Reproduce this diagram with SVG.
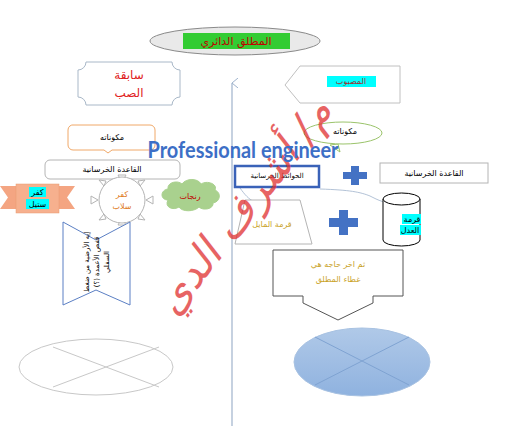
<svg xmlns="http://www.w3.org/2000/svg" width="508" height="429" viewBox="0 0 508 429">
<style>
.ar{font-family:"DejaVu Sans","Noto Sans",sans-serif;font-size:8px;text-anchor:middle;dominant-baseline:central}
.gs{fill:#fff;stroke:#b4b4b4;stroke-width:1}
.bl{fill:#4472c4}
</style>
<defs>
<marker id="ah" markerWidth="6" markerHeight="6" refX="5" refY="3" orient="auto" markerUnits="userSpaceOnUse"><path d="M0,0 L6,3 L0,6 z" fill="#4472c4"/></marker>
<marker id="up" markerWidth="10" markerHeight="8" refX="5" refY="1" orient="auto-start-reverse" markerUnits="userSpaceOnUse"><path d="M0,7 L5,1 L10,7" fill="none" stroke="#9fb3cc"/></marker>
<linearGradient id="bg" x1="0" y1="0" x2="0" y2="1"><stop offset="0" stop-color="#b0c9e8"/><stop offset="1" stop-color="#8fb2df"/></linearGradient>
</defs>
<rect width="508" height="429" fill="#fff"/>
<g id="connectors" fill="none">
<line x1="232" y1="426" x2="232" y2="83" stroke="#9fb3cc" stroke-width="1.2" marker-end="url(#up)"/>
<path d="M240,188 C250,202 255,204 272,204" stroke="#9fb3cc" stroke-width="0.8" marker-end="url(#ah)"/>
<path d="M320,189 C350,190 360,192 370,196 C378,200 385,204 400,204" stroke="#9fb3cc" stroke-width="0.8" marker-end="url(#ah)"/>
</g>
<g id="title">
<ellipse cx="235" cy="41" rx="85" ry="14" fill="#e9e9e9" stroke="#8a8a8a"/>
<rect x="183" y="33" width="107" height="16" fill="#33cc33"/>
<text x="236" y="41" class="ar" fill="#c00000" style="font-size:11px;letter-spacing:1px">المطلق الدائري</text>
</g>
<g id="sabqa">
<path d="M86,62 H172 A8,8 0 0 0 180,70 V97 A8,8 0 0 0 172,105 H86 A8,8 0 0 0 78,97 V70 A8,8 0 0 0 86,62 Z" fill="#fff" stroke="#a9b8c8"/>
<text x="129" y="75" class="ar" fill="#e02020" style="font-size:12px">سابقة</text>
<text x="129" y="93" class="ar" fill="#e02020" style="font-size:12px">الصب</text>
</g>
<g id="masboob">
<path d="M300,66 H400 V103 H300 L285,85 Z" fill="#fff" stroke="#c0c0c0"/>
<rect x="327" y="76" width="49" height="11" fill="#00ffff"/>
<text x="351" y="81.5" class="ar" fill="#a03030">المصبوب</text>
</g>
<g id="mokawenat-left">
<path d="M74,125 H150 A5,5 0 0 1 155,130 V145 A5,5 0 0 1 150,150 H112 L108,153 L104,150 H73 A5,5 0 0 1 68,145 V130 A5,5 0 0 1 74,125 Z" fill="#fff" stroke="#f0a868"/>
<text x="112" y="137" class="ar" fill="#000">مكوناته</text>
</g>
<g id="qaeda-left">
<rect x="45" y="160" width="135" height="19" rx="5" class="gs"/>
<text x="112" y="169" class="ar" fill="#000">القاعدة الخرسانية</text>
</g>
<g id="mokawenat-right">
<path d="M330,145 L340,152 L338,144 Z" fill="#fff" stroke="#9bc46b"/>
<ellipse cx="343" cy="133" rx="39" ry="11" fill="#fff" stroke="#9bc46b"/>
<text x="345" y="131" class="ar" fill="#000">مكوناته</text>
</g>
<g id="qaeda-right">
<rect x="380" y="163" width="108" height="20" class="gs"/>
<text x="434" y="173" class="ar" fill="#000">القاعدة الخرسانية</text>
</g>
<g id="plus1"><path class="bl" d="M351,166 h8 v6 h8 v7 h-8 v6 h-8 v-6 h-8 v-7 h8 z"/></g>
<g id="plus2"><path class="bl" d="M339,210 h9 v8 h10 v9 h-10 v8 h-9 v-8 h-10 v-9 h10 z"/></g>
<g id="hawaet">
<rect x="235" y="166" width="84" height="21" fill="#fff" stroke="#3a62b8" stroke-width="2.5"/>
<text x="277" y="176" class="ar" fill="#000" style="font-size:7px">الحوائط الخرسانية</text>
</g>
<g id="kafar-steel">
<path d="M0,186 H16 V209 H0 L8,197.5 Z M75,186 H59 V209 H75 L67,197.5 Z" fill="#f4a582"/>
<rect x="16" y="184" width="43" height="29" fill="#f6b08e" stroke="#e89a70" stroke-width="0.5"/>
<rect x="29" y="187" width="17" height="10" fill="#00ffff"/>
<rect x="26" y="199" width="23" height="10" fill="#00ffff"/>
<text x="37.5" y="192" class="ar" fill="#000">كفر</text>
<text x="37.5" y="204" class="ar" fill="#000">ستيل</text>
</g>
<g id="kafar-slab">
<path d="M122,182 L118,175 L126,175 Z M122,218 L118,225 L126,225 Z M98,200 L91,196 L91,204 Z M146,200 L153,196 L153,204 Z" class="gs"/>
<path d="M104,186 L99,180 L106,181 Z M140,186 L145,180 L138,181 Z M104,214 L99,220 L106,219 Z M140,214 L145,220 L138,219 Z" class="gs"/>
<circle cx="122" cy="200" r="23" class="gs"/>
<text x="122" y="194" class="ar" fill="#e07a1a">كفر</text>
<text x="122" y="206" class="ar" fill="#e07a1a">سلاب</text>
</g>
<g id="ranjat">
<path d="M168,200 C160,200 160,190 168,189 C167,182 178,180 182,184 C186,178 198,178 201,184 C207,180 218,184 215,190 C222,193 220,202 213,203 C214,209 203,211 199,207 C194,212 182,212 179,207 C173,211 164,207 168,200 Z" fill="#a9d18e" stroke="#a9d18e"/>
<text x="190" y="196" class="ar" fill="#c00000">رنجات</text>
</g>
<g id="chevron">
<path d="M63,222 L96,240 L130,222 V305 L96,290 L63,305 Z" fill="#fff" stroke="#5b7fc4"/>
<g transform="translate(97,262) rotate(-90)" class="ar" fill="#000" style="font-size:7px">
<text x="0" y="-10">إيه الأرضية من ضغط</text>
<text x="0" y="0">قفص الأعمدة (؟)</text>
<text x="0" y="10">السفلي</text>
</g>
</g>
<g id="qormat-mayel">
<path d="M245,200 H300 L312,244 H235 Z" class="gs"/>
<text x="272" y="224" class="ar" fill="#c9a227">قرمة المايل</text>
</g>
<g id="qormat-adl">
<path d="M383,199 V240 A18.5,6 0 0 0 420,240 V199" fill="#fff" stroke="#000"/>
<ellipse cx="401.5" cy="199" rx="18.5" ry="6" fill="#fff" stroke="#000"/>
<rect x="402" y="214" width="19" height="10" fill="#00ffff"/>
<rect x="400" y="225" width="21" height="10" fill="#00ffff"/>
<text x="412" y="219" class="ar" fill="#000">قرمة</text>
<text x="410" y="230" class="ar" fill="#000">العدل</text>
</g>
<g id="akher">
<path d="M273,250 H403 V296 H373 V303 L338,320 L303,303 V296 H273 Z" fill="#fff" stroke="#555"/>
<text x="338" y="264" class="ar" fill="#c9a227">ثم اخر حاجه هي</text>
<text x="338" y="279" class="ar" fill="#c9a227">غطاء المطلق</text>
</g>
<g id="ellipse-left">
<ellipse cx="96" cy="367" rx="77" ry="28" fill="none" stroke="#c8c8c8"/>
<path d="M53,347 L159,387 M159,347 L53,387" stroke="#c8c8c8"/>
</g>
<g id="ellipse-right">
<ellipse cx="362" cy="362" rx="68" ry="34" fill="url(#bg)" stroke="#a8c2e2"/>
<path d="M315,337 L409,385 M409,337 L315,385" stroke="#7fa3d2"/>
</g>
<g id="watermark" fill="#e03030" opacity="0.75" font-family="'DejaVu Sans',sans-serif" font-style="italic">
<text x="255" y="215" font-size="42" transform="rotate(-52 255 215)" text-anchor="middle">م/ أشرف الدي</text>
</g>
<text x="243" y="158" font-family="Lato,'Open Sans',sans-serif" font-weight="bold" font-size="23" fill="#3d6fc6" text-anchor="middle" textLength="191" lengthAdjust="spacingAndGlyphs">Professional engineer</text>
</svg>
